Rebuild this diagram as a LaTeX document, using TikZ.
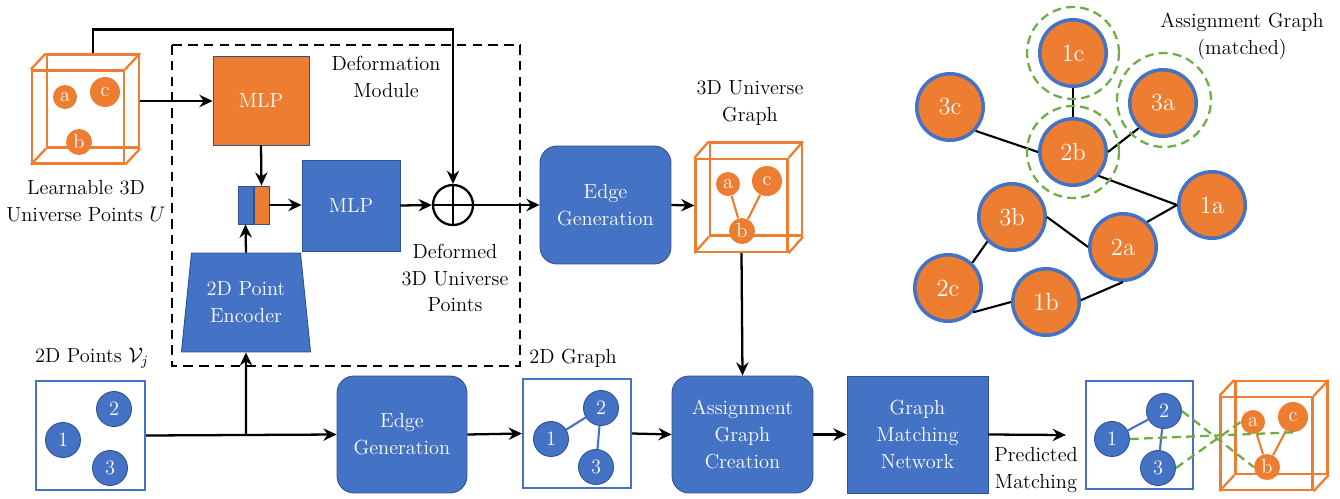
\documentclass[tikz,border=0pt]{standalone}
\usetikzlibrary{arrows.meta,shapes.geometric,positioning}
\definecolor{ppblue}{HTML}{4472C4}
\definecolor{ppdark}{HTML}{2F528F}
\definecolor{pporange}{HTML}{ED7D31}
\definecolor{ppgreen}{HTML}{70AD47}
\begin{document}
\begin{tikzpicture}[
  x=0.02cm, y=-0.02cm,
  font=\rmfamily\fontsize{11.6}{15.3}\selectfont,
  arrow/.style={-{Stealth[length=7.5pt,width=7pt,inset=2.5pt]}, line width=1.3pt},
  conn/.style={line width=1.3pt},
  block/.style={draw=ppdark, fill=ppblue, text=white, align=center, line width=0.5pt},
  rblock/.style={block, rounded corners=0.34cm},
  mlpbox/.style={draw=ppdark, fill=pporange, text=white, align=center, line width=0.5pt},
  ptframe/.style={draw=ppblue, fill=white, line width=1.3pt},
  cubebox/.style={draw=pporange, line width=1.3pt, minimum width=1.84cm, minimum height=1.86cm, inner sep=0pt},
  pt2d/.style={circle, draw=ppdark, fill=ppblue, text=white, minimum size=0.7cm, inner sep=0pt, line width=0.5pt},
  pt3d/.style={circle, fill=pporange, text=white, inner sep=0pt},
  edge2d/.style={ppblue, line width=1.2pt},
  edge3d/.style={pporange, line width=1.2pt},
  agnode/.style={circle, draw=ppblue, fill=pporange, text=white, line width=2pt, minimum size=1.33cm, inner sep=0pt, font=\rmfamily\fontsize{14}{16}\selectfont},
  agedge/.style={line width=1.2pt},
  match/.style={ppgreen, line width=1.3pt, dash pattern=on 5pt off 3pt},
  caption/.style={align=center}
]
\useasboundingbox (0,0) rectangle (1340,498);

% deformation module frame
\draw[line width=1.3pt, dash pattern=on 5.5pt off 3.5pt] (172,45) rectangle (520,366);
\node[caption] (defmod) at (386,77) {Deformation\\Module};

% learnable universe points
\node[cubebox] (ucube) at (78,117) {};
\node[cubebox] (ucubeb) at (93,101) {};
\node[pt3d, minimum size=0.48cm] (ua) at (65,97) {a};
\node[pt3d, minimum size=0.6cm] (uc) at (105,92) {c};
\node[pt3d, minimum size=0.52cm] (ub) at (79,142) {b};
\node[caption] (ulabel) at (86,201) {Learnable 3D\\Universe Points $U$};

% deformation
\node[mlpbox, minimum width=1.92cm, minimum height=1.78cm] (mlpA) at (261,100.5) {MLP};
\node[block, minimum width=0.3cm, minimum height=0.76cm, inner sep=0pt] (catb) at (245.5,205) {};
\node[mlpbox, minimum width=0.3cm, minimum height=0.76cm, inner sep=0pt] (cato) at (261.5,205) {};
\node[block, minimum width=1.96cm, minimum height=1.82cm] (mlpB) at (351,205.5) {MLP};
\node[circle, draw, line width=1.3pt, minimum size=0.8cm, inner sep=0pt] (oplus) at (453,205) {};
\draw[line width=1.3pt] (oplus.north) -- (oplus.south) (oplus.west) -- (oplus.east);
\node[block, trapezium, trapezium angle=81, trapezium stretches=true, minimum width=2.6cm, minimum height=1.98cm] (enc) at (246,302.5) {2D Point\\Encoder};
\node[caption] (deflabel) at (455,278) {Deformed\\3D Universe\\Points};

% universe graph
\node[rblock, minimum width=2.62cm, minimum height=2.36cm] (eg1) at (605.5,205) {Edge\\Generation};
\node[cubebox] (gcube) at (741.5,205.5) {};
\node[cubebox] (gcubeb) at (756,189) {};
\node[pt3d, minimum size=0.48cm] (ga) at (728,184) {a};
\node[pt3d, minimum size=0.6cm] (gc) at (767,181) {c};
\node[pt3d, minimum size=0.52cm] (gb) at (742,231) {b};
\draw[edge3d] (ga) -- (gb) (gc) -- (gb);
\node[caption] (glabel) at (750,103) {3D Universe\\Graph};

% 2D points and graph
\node[ptframe, minimum width=2.18cm, minimum height=2.18cm] (pts) at (90.5,435.5) {};
\node[pt2d] (v1) at (63,440) {1};
\node[pt2d] (v2) at (114,409) {2};
\node[pt2d] (v3) at (110,468) {3};
\node[caption] (ptslabel) at (92,358) {2D Points $\mathcal{V}_j$};
\node[rblock, minimum width=2.6cm, minimum height=2.34cm] (eg2) at (402,434.5) {Edge\\Generation};
\node[ptframe, minimum width=2.16cm, minimum height=2.18cm] (g2d) at (577,433.5) {};
\node[pt2d] (g1) at (551,439) {1};
\node[pt2d] (g2) at (601,408) {2};
\node[pt2d] (g3) at (596,467) {3};
\draw[edge2d] (g1) -- (g2) (g2) -- (g3);
\node[caption] (g2dlabel) at (573,358) {2D Graph};

% matching
\node[rblock, minimum width=2.82cm, minimum height=2.34cm] (agc) at (742.5,434.5) {Assignment\\Graph\\Creation};
\node[block, minimum width=2.82cm, minimum height=2.34cm] (gmn) at (917.5,434.5) {Graph\\Matching\\Network};
\node[ptframe, minimum width=2.14cm, minimum height=2.16cm] (pred) at (1139.5,435) {};
\node[pt2d] (p1) at (1112,439) {1};
\node[pt2d] (p2) at (1164,411) {2};
\node[pt2d] (p3) at (1158,468) {3};
\draw[edge2d] (p1) -- (p2) (p2) -- (p3);
\node[cubebox] (mcube) at (1266.5,443.5) {};
\node[cubebox] (mcubeb) at (1281.5,427.5) {};
\node[pt3d, minimum size=0.48cm] (ma) at (1253,422) {a};
\node[pt3d, minimum size=0.6cm] (mc) at (1293,417) {c};
\node[pt3d, minimum size=0.52cm] (mb) at (1267,467) {b};
\draw[edge3d] (ma) -- (mb) (mc) -- (mb);
\node[caption] (predlabel) at (1036,470) {Predicted\\Matching};
\coordinate[left=0.38cm of pred.west] (predtip);

% cube edges
\foreach \c in {ucube, gcube, mcube}
  \foreach \k in {north west, north east, south west, south east}
    \draw[pporange, line width=1.3pt] (\c.\k) -- (\c b.\k);

\draw[match] (p2.east) -- (mb.west);
\draw[match] (p1.east) -- (mc.south);
\draw[match] (p3.east) -- (ma.west);

% assignment graph
\node[agnode] (n1c) at (1073,53) {1c};
\node[agnode] (n3a) at (1163,103) {3a};
\node[agnode] (n3c) at (950,107) {3c};
\node[agnode] (n2b) at (1073,152) {2b};
\node[agnode] (n1a) at (1212,205) {1a};
\node[agnode] (n3b) at (1012,217) {3b};
\node[agnode] (n2a) at (1123,247) {2a};
\node[agnode] (n2c) at (948,288) {2c};
\node[agnode] (n1b) at (1046,302) {1b};
\draw[agedge] (n1c.south) -- (n2b.north);
\draw[agedge] (n3c.-43) -- (n2b.180);
\draw[agedge] (n3a.-134) -- (n2b.0);
\draw[agedge] (n2b.-43) -- (n1a.180);
\draw[agedge] (n1a.180) -- (n2a.46);
\draw[agedge] (n3b.0) -- (n2a.180);
\draw[agedge] (n3b.-135) -- (n2c.46);
\draw[agedge] (n2c.-44) -- (n1b.180);
\draw[agedge] (n1b.3) -- (n2a.-90);
\draw[match] (n1c) circle (0.92cm);
\draw[match] (n2b) circle (0.92cm);
\draw[match] (1164,100) circle (0.94cm);
\node[caption] (aglabel) at (1242,36) {Assignment Graph\\(matched)};

% connectors
\draw[arrow] (ucubeb.north) -- ++(0,-24) -| (oplus.north);
\draw[arrow] (ucubeb.east) -- (ucubeb.east -| mlpA.west);
\draw[arrow] (mlpA.south) -- (cato.north);
\draw[arrow] (cato.east) -- (cato.east -| mlpB.west);
\draw[arrow] (mlpB.east) -- (oplus.west);
\draw[arrow] (enc.top side) -- (catb.south);
\draw[arrow] (oplus.east) -- (eg1.west);
\draw[arrow] (eg1.east) -- (gcube.west);
\draw[arrow] (gcube.south) -- (agc.north);
\coordinate (split) at (pts.east -| enc.south);
\draw[arrow] (pts.east) -- (eg2.west);
\draw[arrow] (split) -- (enc.bottom side);
\draw[arrow] (eg2.east) -- (g2d.west);
\draw[arrow] (g2d.east) -- (agc.west);
\draw[arrow] (agc.east) -- (gmn.west);
\draw[arrow] (gmn.east) -- (predtip);
\end{tikzpicture}
\end{document}
